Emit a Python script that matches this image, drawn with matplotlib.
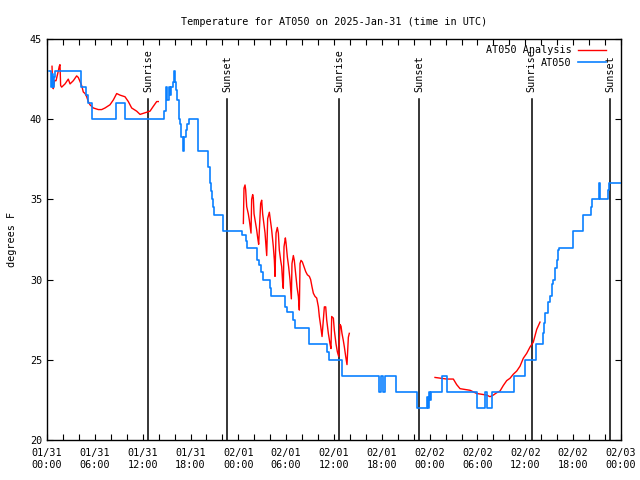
import numpy as np
import matplotlib
matplotlib.use("Agg")
import matplotlib.pyplot as plt
from matplotlib.ticker import MultipleLocator

# hours since 2025-01-31 00:00 UTC
obs_hours = [0.2, 0.55, 0.65, 0.75, 0.85, 1.0, 4.27, 4.9, 5.2, 5.6, 8.65, 9.8,
             14.7, 14.9, 15.05, 15.25, 15.45, 15.6, 15.75, 15.9, 16.1, 16.2,
             16.35, 16.5, 16.65, 16.8, 17.0, 17.15, 17.4, 17.6, 17.8, 18.9,
             20.2, 20.4, 20.55, 20.7, 20.85, 21.0, 22.05, 24.4, 24.9, 25.1,
             26.3, 26.6, 26.9, 27.1, 27.95, 28.1, 29.8, 30.1, 30.9, 31.1,
             32.9, 35.15, 35.4, 37.0, 41.7, 41.95, 42.15, 42.4, 43.8, 46.4,
             47.7, 47.8, 47.9, 48.05, 48.2, 49.6, 50.2, 53.9, 55.0, 55.25,
             55.85, 58.55, 59.9, 61.4, 62.18, 62.34, 62.47, 62.89, 63.10,
             63.31, 63.51, 63.72, 63.93, 64.14, 64.27, 65.94, 66.02, 67.19,
             67.28, 68.24, 68.32, 69.28, 69.41, 70.41, 70.54, 72.0]
obs_temp = [43, 42, 42.8, 42, 42.6, 43, 42, 41.5, 41, 40, 41, 40,
            40.5, 42, 41.2, 42, 41.5, 42, 42.3, 43, 42.3, 41.8,
            41.2, 40, 39.7, 38.9, 38, 38.9, 39.3, 39.7, 40, 38,
            37, 36, 35.5, 35, 34.5, 34, 33, 32.8, 32.4, 32,
            31.2, 30.9, 30.5, 30, 29.5, 29, 28.3, 28, 27.5, 27,
            26, 25.5, 25, 24, 23, 24, 23, 24, 23, 22,
            22.7, 22, 23, 22.5, 23, 24, 23, 22, 23, 22,
            23, 24, 25, 26, 26.65, 27.3, 27.9, 28.6, 29.0,
            29.7, 30, 30.7, 31.2, 31.85, 32, 32.5, 33, 33.7,
            34, 34.55, 35, 36, 35, 35.6, 36, 36]

# analysis runs (three separate pieces)
ana1_hours = [0.63, 0.71, 0.79, 0.94, 1.13, 1.42, 1.54, 1.63, 1.71, 1.84, 2.26,
              2.67, 2.89, 3.30, 3.72, 3.93, 4.35, 4.55, 4.77, 4.98, 5.18, 5.39,
              5.81, 6.44, 6.86, 7.28, 7.90, 8.32, 8.74, 9.16, 9.78, 10.20,
              10.62, 11.25, 11.67, 12.29, 12.92, 13.33, 13.76, 13.96]
ana1_temp = [43.3, 42.0, 41.9, 42.4, 42.4, 43.0, 43.3, 43.4, 42.1, 42.0, 42.2,
             42.5, 42.2, 42.4, 42.7, 42.6, 42.1, 41.7, 41.6, 41.4, 41.1, 40.9,
             40.7, 40.6, 40.6, 40.7, 40.9, 41.2, 41.6, 41.5, 41.4, 41.1,
             40.7, 40.5, 40.3, 40.4, 40.5, 40.8, 41.1, 41.1]

ana2_hours = [24.63, 24.71, 24.84, 24.92, 25.05, 25.25, 25.38, 25.46, 25.59,
              25.67, 25.80, 25.88, 25.97, 26.17, 26.30, 26.43, 26.55,
              26.80, 26.93, 27.05, 27.22, 27.35, 27.47, 27.56,
              27.68, 27.89, 27.97, 28.18, 28.39, 28.52, 28.60,
              28.73, 28.89, 29.02, 29.14, 29.31, 29.44, 29.56, 29.64,
              29.73, 29.90, 29.98, 30.15, 30.31, 30.48, 30.56, 30.65,
              30.73, 30.90, 31.02, 31.19, 31.36, 31.53, 31.65,
              31.74, 31.86, 32.03, 32.24, 32.45, 32.66, 32.91, 33.07, 33.24,
              33.41, 33.62, 33.83, 34.04, 34.16, 34.33, 34.50,
              34.79, 34.96, 35.08, 35.29, 35.50, 35.62,
              35.71, 35.92, 36.04, 36.25, 36.42, 36.59,
              36.75, 36.88, 37.00, 37.17, 37.30, 37.47, 37.63, 37.80, 37.92]
ana2_temp = [33.5, 35.7, 35.9, 35.6, 34.55, 34.1, 33.7, 33.4, 32.9,
             35.0, 35.3, 35.1, 34.1, 33.5, 33.1, 32.6, 32.2,
             34.75, 34.95, 34.1, 33.4, 32.9, 32.05, 31.5,
             33.8, 34.2, 33.9, 33.1, 32.05, 31.2, 30.2,
             32.9, 33.25, 32.9, 31.85, 31.2, 30.8, 29.8, 29.45,
             32.05, 32.6, 32.3, 31.4, 30.8, 30.0, 29.45, 28.8,
             31.0, 31.5, 31.2, 30.4, 29.55, 28.95, 28.1,
             31.0, 31.2, 31.1, 30.8, 30.5, 30.3, 30.2, 30.0, 29.55,
             29.15, 28.95, 28.85, 28.3, 27.7, 27.1, 26.45,
             28.3, 28.3, 27.5, 26.65, 26.0, 25.7,
             27.7, 27.6, 26.85, 26.0, 25.5, 25.2,
             27.2, 27.1, 26.65, 26.2, 25.8, 25.2, 24.7, 26.4, 26.65]

ana3_hours = [48.67, 50.14, 50.97, 51.39, 51.81, 53.06, 53.48, 53.90, 55.16,
              55.57, 55.98, 56.41, 56.82, 57.24, 57.66, 58.08, 58.49, 58.92,
              59.33, 59.75, 60.17, 60.59, 61.00, 61.43, 61.84]
ana3_temp = [23.9, 23.8, 23.8, 23.45, 23.2, 23.1, 23.0, 22.9, 22.8,
             22.7, 22.8, 22.95, 23.05, 23.4, 23.7, 23.85, 24.1, 24.3,
             24.6, 25.1, 25.4, 25.8, 26.1, 26.9, 27.35]

sun_hours = [12.71, 22.62, 36.67, 46.7, 60.8, 70.66]
sun_labels = ["Sunrise", "Sunset", "Sunrise", "Sunset", "Sunrise", "Sunset"]

tick_hours = list(range(0, 73, 6))
tick_labels = ["01/31\n00:00", "01/31\n06:00", "01/31\n12:00", "01/31\n18:00",
               "02/01\n00:00", "02/01\n06:00", "02/01\n12:00", "02/01\n18:00",
               "02/02\n00:00", "02/02\n06:00", "02/02\n12:00", "02/02\n18:00",
               "02/03\n00:00"]

FONT = "DejaVu Sans Mono"
FS = 7.3
BLUE = "#0a80ff"

plt.rcParams["font.family"] = FONT
plt.rcParams["font.size"] = FS

fig = plt.figure(figsize=(6.4, 4.8), dpi=100)
ax = fig.add_axes([47 / 640, 40 / 480, 574 / 640, 401 / 480])

for h, lab in zip(sun_hours, sun_labels):
    ax.plot([h, h], [20, 41.25], color="black", lw=1.1, zorder=1)
    ax.text(h, 41.7, lab, rotation=90, ha="center", va="bottom", fontsize=FS)

# analysis pieces joined with NaN gaps
nan = [np.nan]
ana_h = ana1_hours + nan + ana2_hours + nan + ana3_hours
ana_t = ana1_temp + nan + ana2_temp + nan + ana3_temp
ax.plot(ana_h, ana_t, color="red", lw=1.0, label="AT050 Analysis", zorder=2)
ax.plot(obs_hours, obs_temp, color=BLUE, lw=1.2, drawstyle="steps-post",
        label="AT050", zorder=3)

ax.set_xlim(0, 72)
ax.set_ylim(20, 45)
ax.set_xticks(tick_hours)
ax.set_xticklabels(tick_labels)
ax.xaxis.set_minor_locator(MultipleLocator(2))
ax.set_yticks(range(20, 46, 5))
ax.tick_params(which="both", direction="in", top=True, right=True,
               length=4, width=0.8, labelsize=FS)
ax.tick_params(axis="x", pad=6)
for s in ax.spines.values():
    s.set_linewidth(1.0)

ax.set_ylabel("degrees F", fontsize=FS, labelpad=9)
ax.set_title("Temperature for AT050 on 2025-Jan-31 (time in UTC)",
             fontsize=FS, pad=10)

ax.legend(loc="upper right", bbox_to_anchor=(0.985, 1.0), frameon=False,
          markerfirst=False, fontsize=FS, handlelength=2.8,
          handletextpad=0.6, borderaxespad=0.2, labelspacing=0.25)

fig.savefig("out.png", dpi=100)
